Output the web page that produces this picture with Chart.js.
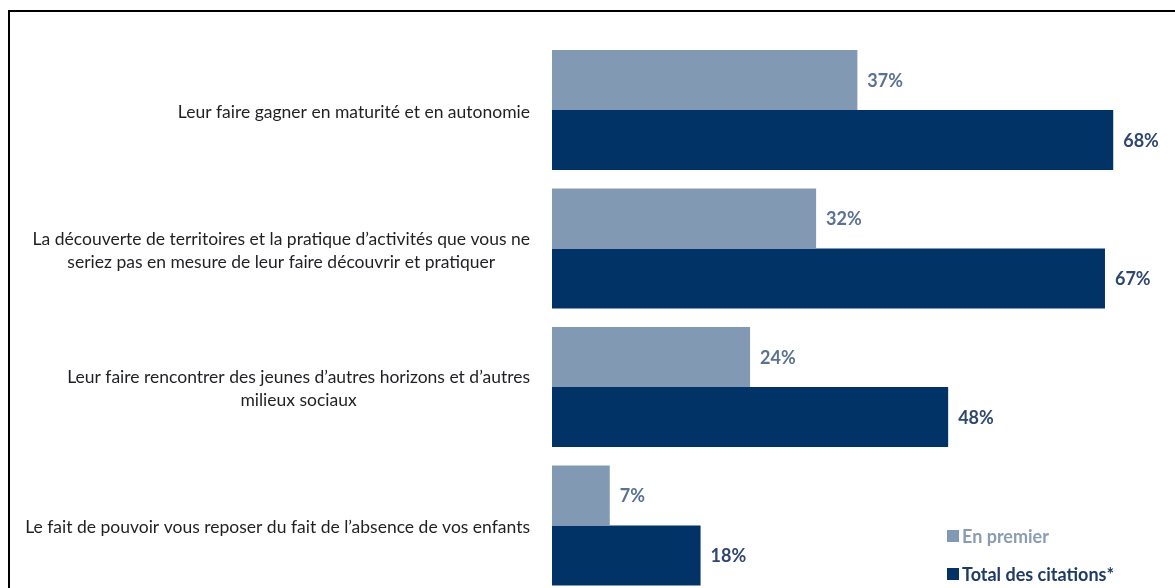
<!DOCTYPE html>
<html>
<head>
<meta charset="utf-8">
<script src="https://cdn.jsdelivr.net/npm/chart.js@4.4.1/dist/chart.umd.min.js"></script>
<style>
  html, body { margin: 0; padding: 0; background: #fff; }
  #wrap { position: relative; width: 1175px; height: 588px; overflow: hidden; background: #fff; }
  #frame { position: absolute; left: 8px; top: 10px; right: -10px; bottom: -10px; border-left: 2px solid #000; border-top: 2px solid #000; pointer-events: none; }
  #cv { position: absolute; left: 0; top: 0; }
</style>
</head>
<body>
<div id="wrap">
  <canvas id="cv" width="1175" height="600" style="width:1175px;height:600px"></canvas>
  <div id="frame"></div>
</div>
<script>
const categories = [
  ["Leur faire gagner en maturité et en autonomie"],
  ["La découverte de territoires et la pratique d\u2019activités que vous ne", "seriez pas en mesure de leur faire découvrir et pratiquer"],
  ["Leur faire rencontrer des jeunes d\u2019autres horizons et d\u2019autres", "milieux sociaux"],
  ["Le fait de pouvoir vous reposer du fait de l\u2019absence de vos enfants"]
];
const seriesNames = ["En premier", "Total des citations*"];
const enPremier = [37, 32, 24, 7];
const totalCitations = [68, 67, 48, 18];

const barColors = ["#8199B2", "#023366"];
const valueColors = ["#5B7191", "#2F4670"];
const legendColors = ["#8A9CB4", "#1E3A66"];
const FONT = "Lato, 'Open Sans', sans-serif";

const overlay = {
  id: 'overlay',
  afterDatasetsDraw(chart) {
    const ctx = chart.ctx;
    const y = chart.scales.y;
    ctx.save();
    // category labels: block right-aligned, lines centered
    ctx.font = "17.5px " + FONT;
    ctx.fillStyle = "#1f1f24";
    ctx.textBaseline = "middle";
    ctx.textAlign = "center";
    const lineH = 23;
    const rightEdge = chart.chartArea.left - 22;
    categories.forEach((lines, i) => {
      const cy = y.getPixelForValue(i) + 2;
      let maxW = 0;
      lines.forEach(l => { maxW = Math.max(maxW, ctx.measureText(l).width); });
      const cx = rightEdge - maxW / 2;
      const y0 = cy - (lines.length - 1) * lineH / 2;
      lines.forEach((l, k) => ctx.fillText(l, cx, y0 + k * lineH));
    });
    // value labels
    ctx.font = "bold 18px " + FONT;
    ctx.textAlign = "left";
    chart.data.datasets.forEach((ds, di) => {
      const meta = chart.getDatasetMeta(di);
      ctx.fillStyle = valueColors[di];
      meta.data.forEach((bar, i) => {
        ctx.fillText(ds.data[i] + "%", bar.x + 10, bar.y + 1);
      });
    });
    // legend
    ctx.font = "bold 18px " + FONT;
    const lx = 947, ly = [536, 574];
    chart.data.datasets.forEach((ds, di) => {
      ctx.fillStyle = ds.backgroundColor;
      ctx.fillRect(lx, ly[di] - 6, 12, 12);
      ctx.fillStyle = legendColors[di];
      ctx.fillText(ds.label, lx + 15, ly[di] + 1);
    });
    ctx.restore();
  }
};

new Chart(document.getElementById('cv'), {
  type: 'bar',
  data: {
    labels: categories,
    datasets: [
      { label: seriesNames[0], data: enPremier, backgroundColor: barColors[0] },
      { label: seriesNames[1], data: totalCitations, backgroundColor: barColors[1] }
    ]
  },
  options: {
    indexAxis: 'y',
    responsive: false,
    animation: false,
    maintainAspectRatio: false,
    layout: { padding: { left: 552, right: 4, top: 40.75, bottom: 5.25 } },
    datasets: { bar: { barPercentage: 1, categoryPercentage: 0.866, borderWidth: 0 } },
    scales: {
      x: { display: false, min: 0, max: 75 },
      y: { display: false }
    },
    plugins: { legend: { display: false }, tooltip: { enabled: false } }
  },
  plugins: [overlay]
});
</script>
</body>
</html>
